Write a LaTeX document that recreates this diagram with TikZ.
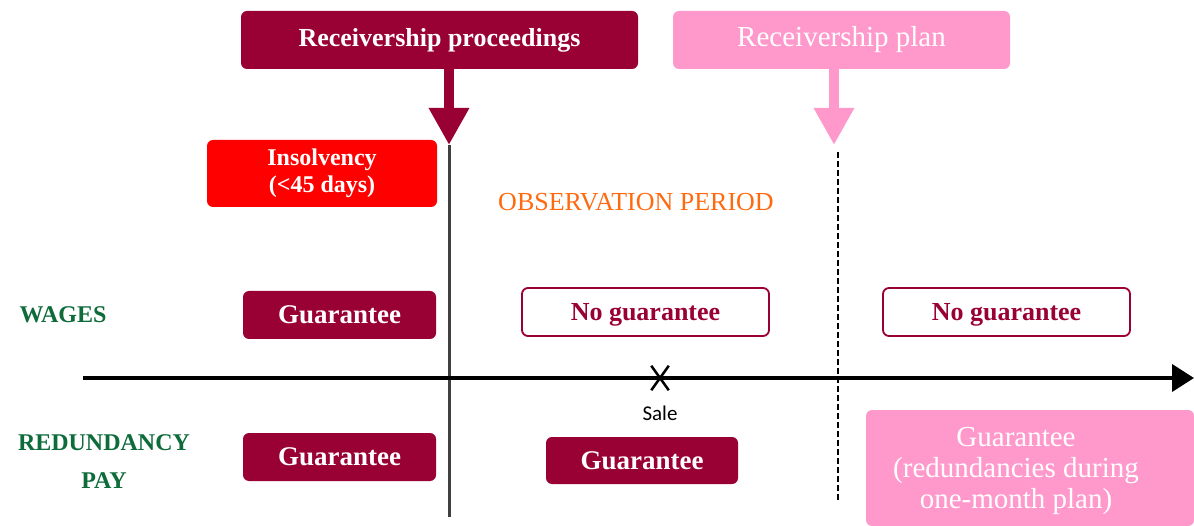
\documentclass[tikz,border=0pt]{standalone}
\usepackage{fontspec}
\setmainfont{Liberation Serif}
\setsansfont{Carlito}
\usetikzlibrary{arrows.meta,shapes.misc}
\definecolor{crim}{HTML}{990033}
\definecolor{pinkc}{HTML}{FF99CC}
\definecolor{redc}{HTML}{FF0000}
\definecolor{orangec}{HTML}{FF6A10}
\definecolor{greenc}{HTML}{0E6B3A}
\definecolor{linegray}{HTML}{404040}
\newcommand{\fs}[1]{\fontsize{#1}{#1}\selectfont}
\tikzset{
  basebox/.style={rounded corners=6pt, inner sep=0pt, align=center, text=white},
  darkbox/.style={basebox, fill=crim},
  outbox/.style={basebox, fill=white, draw=crim, line width=1.8pt, text=crim, text height=21pt, text depth=3pt},
  pinkbox/.style={basebox, fill=pinkc},
  redbox/.style={basebox, fill=redc},
  rowlabel/.style={text=greenc, font=\bfseries\fs{24}, align=center, inner sep=0pt},
  bigarrow/.style={line width=10pt, -{Triangle[length=37pt,width=38pt]}},
}
\begin{document}
\begin{tikzpicture}[x=1pt,y=-1pt]
\useasboundingbox (0,0) rectangle (1194,526);

% top boxes
\node[darkbox, minimum width=397pt, minimum height=58pt, font=\bfseries\fs{26}] (rp) at (439.5,40) {Receivership proceedings};
\node[pinkbox, minimum width=337pt, minimum height=58pt, font=\fs{29}] (pl) at (841.5,40) {Receivership plan};

% arrows and vertical lines
\coordinate (rpTip) at (449,145);
\coordinate (rpEnd) at (449,517);
\coordinate (plTip) at (834,145);
\coordinate (plTop) at (838,152);
\coordinate (plEnd) at (838,502);
\draw[bigarrow, crim] (rp.south -| rpTip) -- (rpTip);
\draw[bigarrow, pinkc] (pl.south -| plTip) -- (plTip);
\draw[linegray, line width=3pt] (rpTip) -- (rpEnd);
\draw[black, line width=2.5pt, dash pattern=on 6pt off 3pt] (plTop) -- (plEnd);

% insolvency and observation
\node[redbox, minimum width=230pt, minimum height=67pt, font=\bfseries\fs{24}] (ins) at (322,173.5) {Insolvency\\[3pt](<45 days)};
\node[text=orangec, font=\fs{26}, inner sep=0pt] (obs) at (636,202) {OBSERVATION PERIOD};

% row labels
\node[rowlabel] (wages) at (63,315) {WAGES};
\node[rowlabel, font=\bfseries\fs{24}] (red) at (104,462) {REDUNDANCY\\[14pt]PAY};

% wages row
\node[darkbox, minimum width=193pt, minimum height=48pt, font=\bfseries\fs{27}] (g1) at (339.5,315) {Guarantee};
\node[outbox, minimum width=247pt, minimum height=48pt, font=\bfseries\fs{26}] (ng1) at (645.5,312) {No guarantee};
\node[outbox, minimum width=247pt, minimum height=48pt, font=\bfseries\fs{26}] (ng2) at (1006.5,312) {No guarantee};

% time axis
\coordinate (axL) at (83,378);
\coordinate (axR) at (1194,378);
\draw[black, line width=4pt, -{Triangle[length=22pt,width=27pt]}] (axL) -- (axR);
\node[cross out, draw=black, line width=2.5pt, minimum width=15pt, minimum height=22pt, inner sep=0pt] (sale) at (660,378) {};
\node[font=\sffamily\fs{21}, inner sep=0pt] (saletxt) at (660,413) {Sale};

% redundancy row
\node[darkbox, minimum width=193pt, minimum height=48pt, font=\bfseries\fs{27}] (g2) at (339.5,457) {Guarantee};
\node[darkbox, minimum width=192pt, minimum height=47pt, font=\bfseries\fs{27}] (g3) at (642,460.5) {Guarantee};
\node[pinkbox, minimum width=328pt, minimum height=116pt] (pg) at (1030,468) {};
\node[text=white, align=center, inner sep=0pt, font=\fs{29}] (pgt) at (1016,471) {Guarantee\\[2pt](redundancies during\\[2pt]one-month plan)};
\end{tikzpicture}
\end{document}
